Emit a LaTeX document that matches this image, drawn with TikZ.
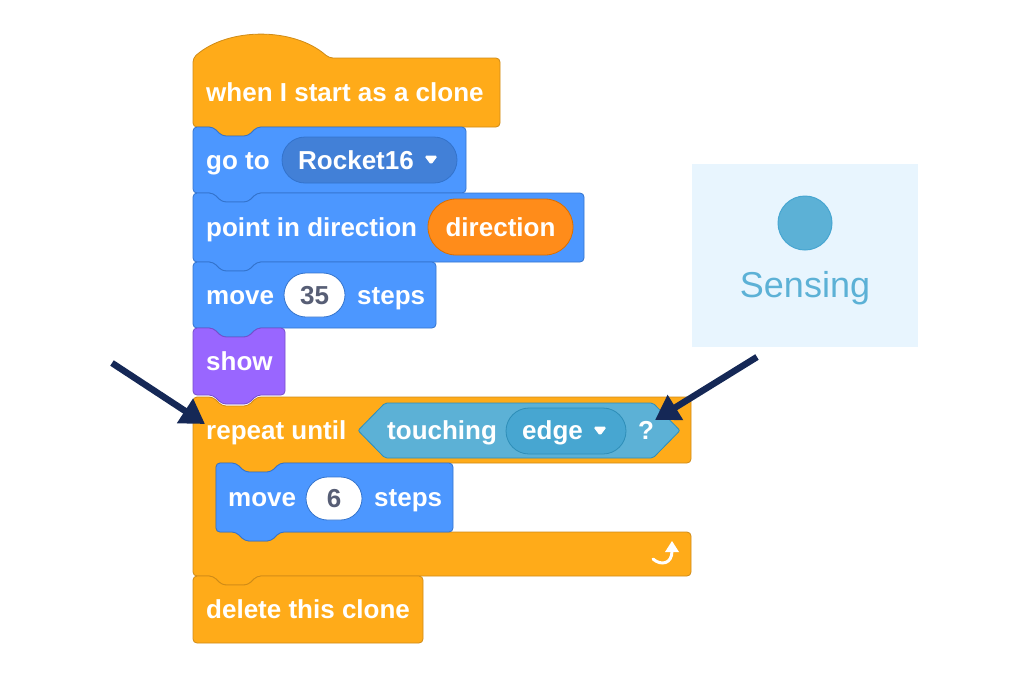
\documentclass[tikz,border=0pt]{standalone}
\usepackage{fontspec}
\setmainfont{Liberation Sans}
\usetikzlibrary{arrows.meta}
\definecolor{ctrlc}{HTML}{FFAB19}
\definecolor{ctrlb}{HTML}{CF8B17}
\definecolor{motc}{HTML}{4C97FF}
\definecolor{motb}{HTML}{3373CC}
\definecolor{motdd}{HTML}{4280D7}
\definecolor{looksc}{HTML}{9966FF}
\definecolor{looksb}{HTML}{774DCB}
\definecolor{varc}{HTML}{FF8C1A}
\definecolor{varb}{HTML}{DB6E00}
\definecolor{sensc}{HTML}{5CB1D6}
\definecolor{sensb}{HTML}{2E8EB8}
\definecolor{sensdd}{HTML}{47A6D1}
\definecolor{navy}{HTML}{152856}
\definecolor{panel}{HTML}{E8F5FE}
\definecolor{inputtxt}{HTML}{575E75}
\tikzset{
  blk/.style={line width=0.8pt, line join=round, rounded corners=4pt},
  ctrl/.style={blk, fill=ctrlc, draw=ctrlb},
  motion/.style={blk, fill=motc, draw=motb},
  looks/.style={blk, fill=looksc, draw=looksb},
  sens/.style={line width=0.8pt, rounded corners=2pt, fill=sensc, draw=sensb},
  lbl/.style={text=white, font=\bfseries\fontsize{26}{30}\selectfont, anchor=base west, inner sep=0pt},
  clbl/.style={lbl, anchor=base},
  pill/.style={draw, line width=0.8pt, rectangle, inner sep=0pt},
  ddtri/.style={fill=white, draw=white, line width=1pt, line join=round, rounded corners=1.5pt},
  pointer/.style={draw=navy, line width=6.5pt, -{Triangle[length=24pt,width=28pt]}},
}
\newcommand\sbblock[5]{\path[#1] (#2,#3) -- ({#2+20},#3) -- ({#2+29},{#3+9}) -- ({#2+55},{#3+9}) -- ({#2+64},#3) -- (#4,#3) -- (#4,#5) -- ({#2+64},#5) -- ({#2+55},{#5+9}) -- ({#2+29},{#5+9}) -- ({#2+20},#5) -- (#2,#5) -- cycle;}
\begin{document}
\begin{tikzpicture}[x=1pt,y=-1pt]
\useasboundingbox (0,0) rectangle (1024,681);

% hat block
\path[ctrl] (193,127) -- (193,58) .. controls (228,27) and (294,27) .. (329,58) -- (500,58) -- (500,127) -- (257,127) -- (248,136) -- (222,136) -- (213,127) -- cycle;
\node[lbl] (hattxt) at (206,101.5) {when I start as a clone};

% go to
\sbblock{motion}{193}{127}{466}{193}
\node[lbl] (gototxt) at (206,169) {go to};
\node[pill, fill=motdd, draw=motb, rounded corners=23pt, minimum width=175pt, minimum height=46pt] (rocket) at (369.5,160) {};
\node[lbl] (rockettxt) at (298,169) {Rocket16};
\path[ddtri] (425,156) -- (437,156) -- (431,164) -- cycle;

% point in direction
\sbblock{motion}{193}{193}{584}{262}
\node[lbl] (pointtxt) at (206,236.5) {point in direction};
\node[pill, fill=varc, draw=varb, rounded corners=28pt, minimum width=145pt, minimum height=56pt] (dirpill) at (500.5,227) {};
\node[clbl] (dirtxt) at (500.5,236.5) {direction};

% move 35 steps
\sbblock{motion}{193}{262}{436}{328}
\node[lbl] (movetxt) at (206,304) {move};
\node[pill, fill=white, draw=motb, rounded corners=22pt, minimum width=61pt, minimum height=44pt] (num35) at (314.5,295) {};
\node[clbl, text=inputtxt] (num35txt) at (314.5,304) {35};
\node[lbl] (stepstxt) at (357,304) {steps};

% show
\sbblock{looks}{193}{328}{285}{395}
\node[lbl] (showtxt) at (206,370.5) {show};

% repeat until (C block)
\path[ctrl] (193,397) -- (213,397) -- (222,406) -- (248,406) -- (257,397) -- (691,397) -- (691,463) -- (280,463) -- (271,472) -- (245,472) -- (236,463) -- (216,463) -- (216,532) -- (236,532) -- (245,541) -- (271,541) -- (280,532) -- (691,532) -- (691,576) -- (257,576) -- (248,585) -- (222,585) -- (213,576) -- (193,576) -- cycle;
\node[lbl] (repeattxt) at (206,439) {repeat until};
\path[sens] (358,430.5) -- (385,403) -- (653,403) -- (680,430.5) -- (653,458) -- (385,458) -- cycle;
\node[lbl] (touchtxt) at (387,439.5) {touching};
\node[pill, fill=sensdd, draw=sensb, rounded corners=23pt, minimum width=120pt, minimum height=46pt] (edgepill) at (566,431) {};
\node[lbl] (edgetxt) at (522,439.5) {edge};
\path[ddtri] (594,427) -- (606,427) -- (600,435) -- cycle;
\node[lbl] (qtxt) at (638,439.5) {?};

% loop icon
\draw[white, line width=3pt, line cap=round] (653,559) .. controls (661,566) and (672,564) .. (672,551);
\fill[white] (672,541) -- (679,552) -- (665,552) -- cycle;

% inner move 6 steps
\sbblock{motion}{216}{463}{453}{532}
\node[lbl] (move6txt) at (228,506.5) {move};
\node[pill, fill=white, draw=motb, rounded corners=21.5pt, minimum width=56pt, minimum height=43pt] (num6) at (334,498.5) {};
\node[clbl, text=inputtxt] (num6txt) at (334,507.5) {6};
\node[lbl] (steps6txt) at (374,506.5) {steps};

% delete this clone (cap block)
\path[ctrl] (193,576) -- (213,576) -- (222,585) -- (248,585) -- (257,576) -- (423,576) -- (423,643) -- (193,643) -- cycle;
\node[lbl] (deltxt) at (206,618.5) {delete this clone};

% sensing panel
\fill[panel] (692,164) rectangle (918,347);
\node[circle, fill=sensc, draw=sensdd, line width=1pt, minimum size=54pt, inner sep=0pt] (sensdot) at (805,223) {};
\node[anchor=base, text=sensc, font=\fontsize{36}{40}\selectfont, inner sep=0pt] (senstxt) at (805,297) {Sensing};

% pointer arrows
\coordinate (ltail) at (112,363);
\coordinate (ltip) at (205,424);
\coordinate (rtail) at (757,357);
\coordinate (rtip) at (655,420);
\draw[pointer] (ltail) -- (ltip);
\draw[pointer] (rtail) -- (rtip);
\end{tikzpicture}
\end{document}
